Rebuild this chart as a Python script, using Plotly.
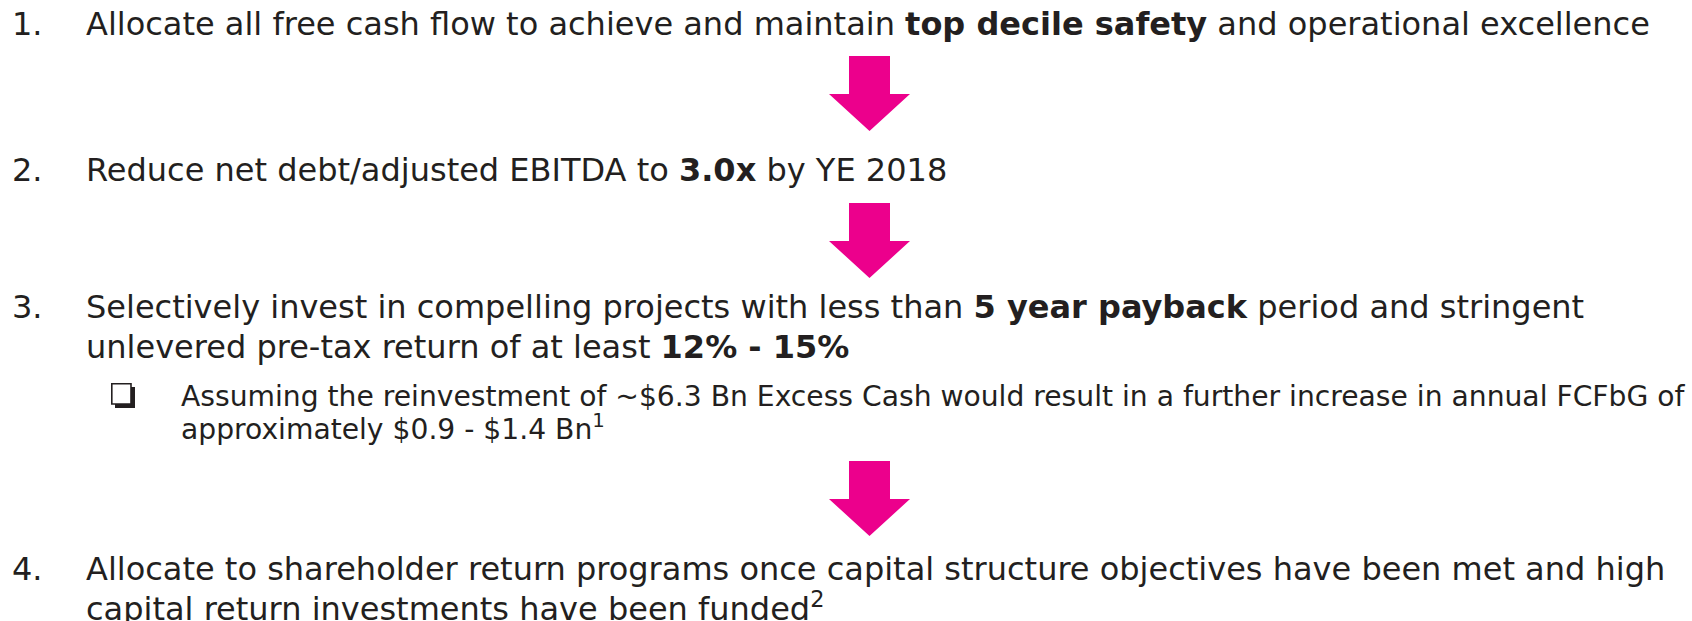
import plotly.graph_objects as go

W, H = 1692, 621

# Content
numbers = ["1.", "2.", "3.", "", "4.", ""]
main_lines = [
    "Allocate all free cash flow to achieve and maintain <b>top decile safety</b> and operational excellence",
    "Reduce net debt/adjusted EBITDA to <b>3.0x</b> by YE 2018",
    "Selectively invest in compelling projects with less than <b>5 year payback</b> period and stringent",
    "unlevered pre-tax return of at least <b>12% - 15%</b>",
    "Allocate to shareholder return programs once capital structure objectives have been met and high",
    "capital return investments have been funded<sup>2</sup>",
]
main_y = [24, 170, 307, 347, 569, 607]
sub_lines = [
    "Assuming the reinvestment of ~$6.3 Bn Excess Cash would result in a further increase in annual FCFbG of",
    "approximately $0.9 - $1.4 Bn<sup>1</sup>",
]
sub_y = [396, 427]
arrow_tops = [56, 203, 461]
bullet_box = (111, 383)  # top-left of the checkbox bullet

TEXT = "#231f20"
PINK = "#ec008c"
FONT = "DejaVu Sans, Verdana, sans-serif"

fig = go.Figure()
ann = []
for n, t, y in zip(numbers, main_lines, main_y):
    if n:
        ann.append(dict(x=10, y=y, text=n, xanchor="left", yanchor="middle",
                        showarrow=False, font=dict(family=FONT, size=32, color=TEXT)))
    ann.append(dict(x=84, y=y, text=t, xanchor="left", yanchor="middle",
                    showarrow=False, font=dict(family=FONT, size=32, color=TEXT)))
for t, y in zip(sub_lines, sub_y):
    ann.append(dict(x=179, y=y, text=t, xanchor="left", yanchor="middle",
                    showarrow=False, font=dict(family=FONT, size=28.2, color=TEXT)))

shapes = []
cx = 869.5
for top in arrow_tops:
    p = (f"M {cx-20.5},{top} L {cx+20.5},{top} L {cx+20.5},{top+38} L {cx+40.5},{top+38} "
         f"L {cx},{top+75} L {cx-40.5},{top+38} L {cx-20.5},{top+38} Z")
    shapes.append(dict(type="path", path=p, xref="x", yref="y",
                       fillcolor=PINK, line=dict(width=0)))

bx, by = bullet_box
shapes.append(dict(type="rect", x0=bx + 4, y0=by + 4, x1=bx + 24, y1=by + 25,
                   xref="x", yref="y", fillcolor=TEXT, line=dict(width=0)))
shapes.append(dict(type="rect", x0=bx + 0.8, y0=by + 0.8, x1=bx + 20, y1=by + 21,
                   xref="x", yref="y", fillcolor="white", line=dict(width=1.6, color=TEXT)))

fig.update_layout(
    width=W, height=H, margin=dict(l=0, r=0, t=0, b=0),
    paper_bgcolor="white", plot_bgcolor="white",
    xaxis=dict(range=[0, W], visible=False, fixedrange=True),
    yaxis=dict(range=[H, 0], visible=False, fixedrange=True),
    annotations=ann, shapes=shapes, showlegend=False,
)
fig.write_html("out.html", config={"displayModeBar": False},
               post_script="document.body.style.margin='0';document.body.style.overflow='hidden';")
